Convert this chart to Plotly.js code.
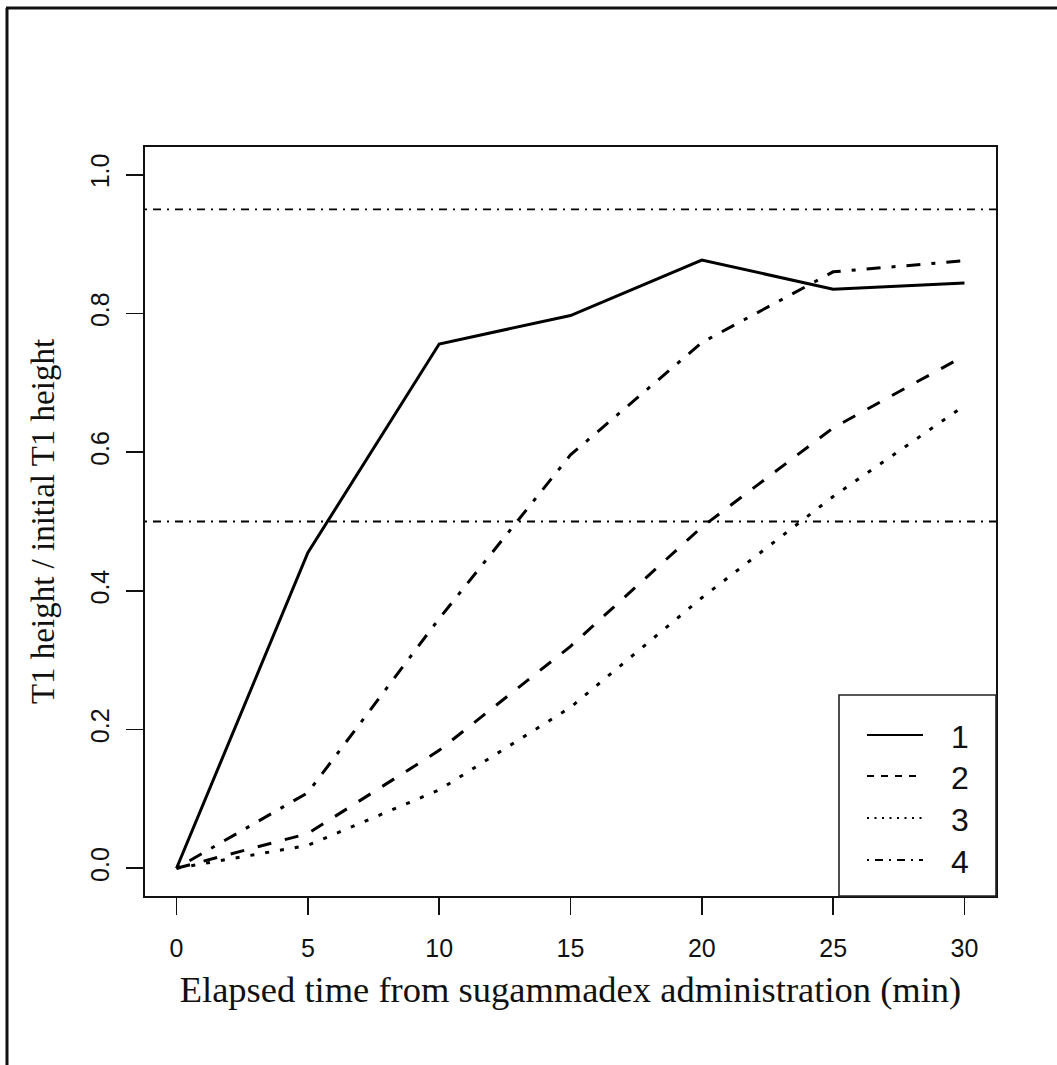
<!DOCTYPE html>
<html>
<head>
<meta charset="utf-8">
<script src="https://cdn.plot.ly/plotly-3.0.1.min.js"></script>
<style>html,body{margin:0;padding:0;background:#fff;}#chart{width:1057px;height:1065px;}</style>
</head>
<body>
<div id="chart"></div>
<script>
// ---- data ----
const timeMin = [0, 5, 10, 15, 20, 25, 30];
const series1 = [0, 0.455, 0.756, 0.797, 0.877, 0.835, 0.844];
const series2 = [0, 0.050, 0.170, 0.320, 0.492, 0.635, 0.739];
const series3 = [0, 0.033, 0.113, 0.232, 0.390, 0.536, 0.667];
const series4 = [0, 0.109, 0.360, 0.596, 0.758, 0.860, 0.876];
const seriesNames = ["1", "2", "3", "4"];
const refLevels = [0.5, 0.95];
const xTicks = [0, 5, 10, 15, 20, 25, 30];
const yTicks = [0, 0.2, 0.4, 0.6, 0.8, 1.0];

// ---- styles ----
const dataDash = ["solid", "14px,14px", "4px,11px", "4px,11px,14px,11px"];
const legendDash = ["solid", "7px,7px", "2px,5.5px", "2px,6px,8px,6px"];
const allSeries = [series1, series2, series3, series4];

const traces = allSeries.map((ys, i) => ({
  x: timeMin, y: ys, type: "scatter", mode: "lines",
  name: seriesNames[i], showlegend: false,
  line: {color: "#000", width: 3, dash: dataDash[i]},
  hoverinfo: "x+y"
}));

const W = 1057, H = 1065;
const L = 145, R = 996, T = 147, B = 896;
const pw = R - L, ph = B - T;
const px = v => (v - L) / pw;
const py = v => (B - v) / ph;

const shapes = [];
// reference lines
refLevels.forEach(v => shapes.push({
  type: "line", xref: "paper", yref: "y", x0: 0, x1: 1, y0: v, y1: v,
  line: {color: "#000", width: 1.8, dash: "2px,6px,8px,6px"}
}));
// outer frame (left and top edges visible)
shapes.push({type: "line", xref: "paper", yref: "paper", x0: px(7), x1: px(7), y0: py(8), y1: py(1070),
  line: {color: "#111", width: 3}});
shapes.push({type: "line", xref: "paper", yref: "paper", x0: px(6), x1: px(1062), y0: py(8), y1: py(8),
  line: {color: "#111", width: 3}});
// legend box
shapes.push({type: "rect", xref: "paper", yref: "paper", x0: px(839), x1: 1, y0: 0, y1: py(695),
  line: {color: "#222", width: 1.6}, fillcolor: "#fff", layer: "above"});
const legY = [735, 776, 818, 860];
const annotations = [];
seriesNames.forEach((nm, i) => {
  shapes.push({type: "line", xref: "paper", yref: "paper", x0: px(867), x1: px(923), y0: py(legY[i]), y1: py(legY[i]),
    line: {color: "#000", width: 1.8, dash: legendDash[i]}, layer: "above"});
  annotations.push({xref: "paper", yref: "paper", x: px(960), y: py(legY[i] + 2), text: nm, showarrow: false,
    xanchor: "center", yanchor: "middle", font: {family: "Liberation Sans, Arial, sans-serif", size: 32, color: "#111"}});
});

const layout = {
  width: W, height: H,
  margin: {l: L, r: W - R, t: T, b: H - B, pad: 0},
  paper_bgcolor: "#fff", plot_bgcolor: "#fff",
  showlegend: false,
  xaxis: {
    range: [-1.2, 31.2], tickvals: xTicks, ticktext: xTicks.map(String),
    showline: true, mirror: true, linecolor: "#111", linewidth: 1.6,
    ticks: "outside", ticklen: 17, tickwidth: 1.6, tickcolor: "#111",
    showgrid: false, zeroline: false, ticklabelstandoff: 12,
    tickfont: {family: "Liberation Sans, Arial, sans-serif", size: 25, color: "#111"},
    title: {text: "Elapsed time from sugammadex administration (min)", standoff: 16,
      font: {family: "Liberation Serif, Times New Roman, serif", size: 36.5, color: "#111"}}
  },
  yaxis: {
    range: [-0.04, 1.04], tickvals: yTicks, ticktext: yTicks.map(v => v.toFixed(1)),
    showline: true, mirror: true, linecolor: "#111", linewidth: 1.6,
    ticks: "outside", ticklen: 17, tickwidth: 1.6, tickcolor: "#111",
    showgrid: false, zeroline: false, tickangle: -90, ticklabelstandoff: 7,
    tickfont: {family: "Liberation Sans, Arial, sans-serif", size: 25, color: "#111"},
    title: {text: "T1 height / initial T1 height", standoff: 22,
      font: {family: "Liberation Serif, Times New Roman, serif", size: 33, color: "#111"}}
  },
  shapes: shapes,
  annotations: annotations
};

Plotly.newPlot("chart", traces, layout, {displayModeBar: false, staticPlot: true});
</script>
</body>
</html>
